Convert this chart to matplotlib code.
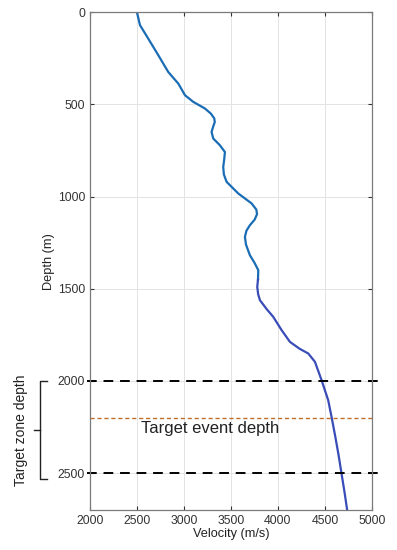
import numpy as np
import matplotlib.pyplot as plt
import matplotlib.transforms as mtransforms

plt.rcParams['font.family'] = ['Liberation Sans', 'DejaVu Sans']

# velocity profile
depth = [0, 70, 143, 233, 324, 387, 450, 486, 522, 549, 575, 595, 622, 649, 685,
         720, 758, 800, 839, 880, 920, 983, 1037, 1070, 1095, 1125, 1155, 1185, 1218,
         1260, 1318, 1360, 1399, 1450, 1490, 1530, 1562, 1610, 1652, 1724, 1788,
         1825, 1851, 1896, 1996, 2104, 2195, 2300, 2400, 2502, 2600, 2700]
velocity = [2500, 2532, 2620, 2727, 2833, 2940, 3011, 3099, 3223, 3285, 3322, 3328,
            3310, 3294, 3312, 3380, 3436, 3428, 3418, 3425, 3454, 3578, 3720, 3770,
            3778, 3752, 3702, 3665, 3649, 3660, 3702, 3752, 3791, 3788, 3780, 3790,
            3809, 3880, 3950, 4039, 4128, 4230, 4323, 4394, 4465, 4535, 4571, 4610,
            4645, 4677, 4708, 4737]

zone_top = 2000
zone_bottom = 2500
event_depth = 2200
split_depth = 1450

depth = np.array(depth)
velocity = np.array(velocity)

fig = plt.figure(figsize=(3.97, 5.50), dpi=100)
ax = fig.add_axes([0.2267, 0.0727, 0.710, 0.905])

up = depth <= split_depth
lo = depth >= split_depth
ax.plot(velocity[up], depth[up], color='#1a6db5', lw=1.6, solid_joinstyle='round')
ax.plot(velocity[lo], depth[lo], color='#3a4cb8', lw=1.6, solid_joinstyle='round')

ax.axhline(zone_top, xmin=-0.01, xmax=1.03, color='black', ls=(0, (5, 3.5)),
           lw=1.4, clip_on=False)
ax.axhline(zone_bottom, xmin=-0.01, xmax=1.03, color='black', ls=(0, (5, 3.5)),
           lw=1.4, clip_on=False)
ax.axhline(event_depth, color='#c0702a', ls=(0, (3, 2)), lw=1.0)
ax.text(2540, event_depth + 60, 'Target event depth', fontsize=12,
        va='center', ha='left', color='#222222')

ax.set_xlim(2000, 5000)
ax.set_ylim(2700, 0)
ax.set_xticks(np.arange(2000, 5001, 500))
ax.set_yticks(np.arange(0, 2501, 500))
ax.grid(True, color='#e3e3e3', lw=0.7)
ax.set_axisbelow(True)
ax.tick_params(direction='in', top=True, right=True, labelsize=8.8,
               colors='#333333', length=3)
for s in ax.spines.values():
    s.set_color('#7a7a7a')
    s.set_linewidth(0.9)
ax.set_xlabel('Velocity (m/s)', fontsize=9.2, labelpad=1, color='#222222')
ax.set_ylabel('Depth (m)', fontsize=9.2, labelpad=2, color='#222222')

# curly bracket for the target zone
tr = mtransforms.blended_transform_factory(ax.transAxes, ax.transData)
bx, tip = -0.177, -0.20
mid = 2265
ax.plot([bx + 0.025, bx, bx, bx + 0.025], [zone_top, zone_top, 2530, 2530],
        transform=tr, color='#222222', lw=1.0, clip_on=False)
ax.plot([bx, tip], [mid, mid], transform=tr, color='#222222', lw=1.0, clip_on=False)
ax.text(-0.245, mid, 'Target zone depth', transform=tr, rotation=90, fontsize=10,
        ha='center', va='center', color='#222222')

fig.savefig('out.png', dpi=100)
